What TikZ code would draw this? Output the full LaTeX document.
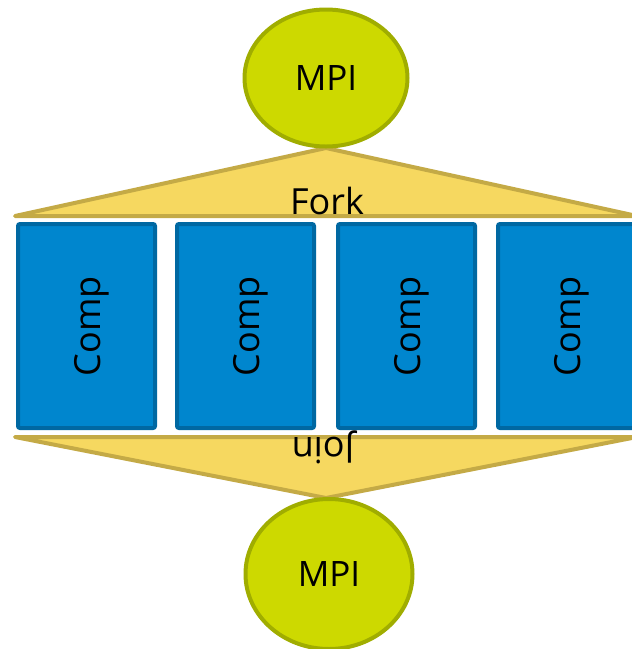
\documentclass[tikz,border=0pt]{standalone}
\usepackage{fontspec}
\setmainfont{Open Sans}
\usepackage{tikz}
\usetikzlibrary{shapes.geometric,positioning,calc}
\definecolor{mpifill}{RGB}{205,217,0}
\definecolor{mpiline}{RGB}{160,173,0}
\definecolor{wedgefill}{RGB}{246,216,96}
\definecolor{wedgeline}{RGB}{196,170,70}
\definecolor{compfill}{RGB}{0,134,206}
\definecolor{compline}{RGB}{0,104,162}
\tikzset{
  mpi/.style={ellipse, draw=mpiline, fill=mpifill, line width=4pt, inner sep=0pt, font=\fontsize{35}{35}\selectfont},
  wedge/.style={draw=wedgeline, fill=wedgefill, line width=4pt, line join=round},
  compbox/.style={draw=compline, fill=compfill, line width=4pt, rounded corners=2pt, minimum width=137pt, minimum height=204pt, inner sep=0pt},
  label/.style={font=\fontsize{36}{36}\selectfont, inner sep=0pt}
}
\begin{document}
\begin{tikzpicture}[x=1pt,y=-1pt]
  \useasboundingbox (0,0) rectangle (632,649);
  \clip (0,0) rectangle (632,649);

  % fork and join wedges
  \draw[wedge] (15,216) -- (326,148) -- (637,216) -- cycle;
  \draw[wedge] (15,437) -- (326,498) -- (637,437) -- cycle;

  % the compute blocks
  \foreach \i/\xc in {1/86.5,2/245.5,3/406.5,4/566.5}
    {
      \node[compbox] (comp\i) at (\xc,326) {};
      \node[label, rotate=90, anchor=center] at ($(comp\i.center)+(5,0)$) {Comp};
    }

  \node[label, anchor=base] (fork) at (327,214) {Fork};
  \node[label, rotate=180, anchor=base] (join) at (323,437) {Join};

  \node[mpi, minimum width=163pt, minimum height=137pt] (mpitop) at (326,78) {MPI};
  \node[mpi, minimum width=167pt, minimum height=150pt] (mpibot) at (329,574) {MPI};
\end{tikzpicture}
\end{document}
